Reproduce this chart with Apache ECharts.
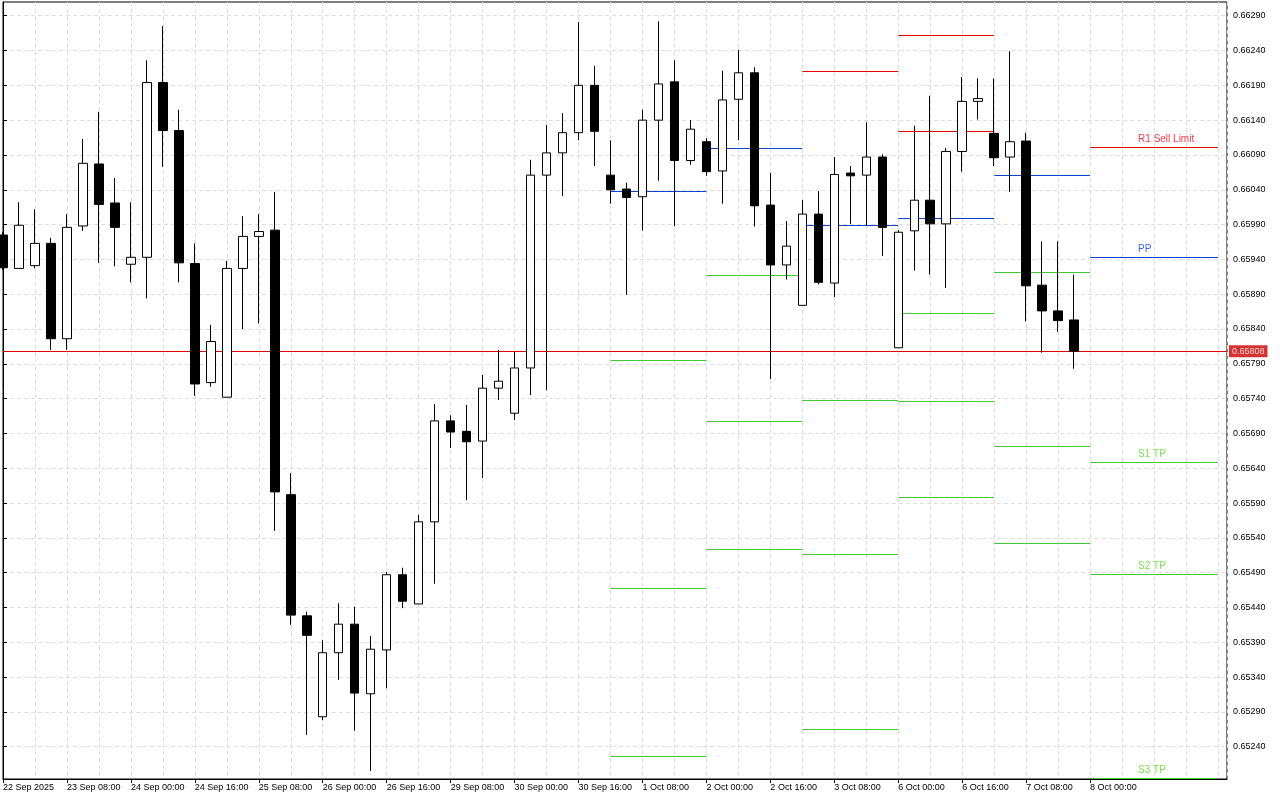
<!DOCTYPE html>
<html><head><meta charset="utf-8">
<script src="https://cdn.jsdelivr.net/npm/echarts@6/dist/echarts.min.js"></script>
<style>html,body{margin:0;padding:0;background:#fff}#chart{width:1280px;height:800px}</style>
</head><body><div id="chart"></div>
<script>
// ---- DATA (H4 bars) ----
const barTimes = [
 '22 Sep 16:00','22 Sep 20:00',
 '23 Sep 00:00','23 Sep 04:00','23 Sep 08:00','23 Sep 12:00','23 Sep 16:00','23 Sep 20:00',
 '24 Sep 00:00','24 Sep 04:00','24 Sep 08:00','24 Sep 12:00','24 Sep 16:00','24 Sep 20:00',
 '25 Sep 00:00','25 Sep 04:00','25 Sep 08:00','25 Sep 12:00','25 Sep 16:00','25 Sep 20:00',
 '26 Sep 00:00','26 Sep 04:00','26 Sep 08:00','26 Sep 12:00','26 Sep 16:00','26 Sep 20:00',
 '29 Sep 00:00','29 Sep 04:00','29 Sep 08:00','29 Sep 12:00','29 Sep 16:00','29 Sep 20:00',
 '30 Sep 00:00','30 Sep 04:00','30 Sep 08:00','30 Sep 12:00','30 Sep 16:00','30 Sep 20:00',
 '1 Oct 00:00','1 Oct 04:00','1 Oct 08:00','1 Oct 12:00','1 Oct 16:00','1 Oct 20:00',
 '2 Oct 00:00','2 Oct 04:00','2 Oct 08:00','2 Oct 12:00','2 Oct 16:00','2 Oct 20:00',
 '3 Oct 00:00','3 Oct 04:00','3 Oct 08:00','3 Oct 12:00','3 Oct 16:00','3 Oct 20:00',
 '6 Oct 00:00','6 Oct 04:00','6 Oct 08:00','6 Oct 12:00','6 Oct 16:00','6 Oct 20:00',
 '7 Oct 00:00','7 Oct 04:00','7 Oct 08:00','7 Oct 12:00','7 Oct 16:00','7 Oct 20:00'
];
const opens = [
 0.65975,0.65927,0.65931,0.65963,0.65826,0.65988,0.66077,0.66021,0.65933,0.65943,
 0.66194,0.66125,0.65934,0.65763,0.65742,0.65927,0.65973,0.65982,0.65602,0.65428,
 0.65283,0.65375,0.65416,0.65316,0.65379,0.65487,0.65445,0.65563,0.65708,0.65693,
 0.65679,0.65755,0.65719,0.65784,0.66061,0.66093,0.66122,0.66190,0.66061,0.66041,
 0.66030,0.66140,0.66195,0.66082,0.66109,0.66067,0.66170,0.66208,0.66018,0.65932,
 0.65874,0.66005,0.65906,0.66064,0.66061,0.66087,0.65813,0.65981,0.66025,0.65991,
 0.66095,0.66167,0.66121,0.66087,0.66110,0.65903,0.65866,0.65853
];
const highs = [
 0.65979,0.66022,0.66012,0.65971,0.66005,0.66113,0.66152,0.66057,0.66022,0.66226,
 0.66275,0.66155,0.65963,0.65846,0.65938,0.66002,0.66005,0.66037,0.65633,0.65434,
 0.65393,0.65446,0.65441,0.65399,0.65491,0.65497,0.65573,0.65732,0.65716,0.65731,
 0.65774,0.65810,0.65807,0.66083,0.66133,0.66150,0.66281,0.66218,0.66111,0.66050,
 0.66155,0.66282,0.66226,0.66140,0.66114,0.66211,0.66241,0.66216,0.66064,0.65995,
 0.66025,0.66038,0.66087,0.66074,0.66137,0.66091,0.65982,0.66132,0.66175,0.66100,
 0.66202,0.66200,0.66200,0.66239,0.66122,0.65966,0.65966,0.65918
];
const lows = [
 0.65925,0.65927,0.65927,0.65810,0.65810,0.65981,0.65935,0.65930,0.65907,0.65884,
 0.66073,0.65907,0.65744,0.65757,0.65742,0.65840,0.65848,0.65550,0.65415,0.65257,
 0.65278,0.65336,0.65263,0.65205,0.65324,0.65439,0.65445,0.65474,0.65669,0.65594,
 0.65626,0.65738,0.65709,0.65745,0.65752,0.66031,0.66111,0.66074,0.66020,0.65889,
 0.65981,0.66053,0.65988,0.66076,0.66060,0.66020,0.66111,0.65987,0.65768,0.65911,
 0.65874,0.65904,0.65886,0.65991,0.65989,0.65945,0.65813,0.65924,0.65918,0.65899,
 0.66066,0.66141,0.66074,0.66037,0.65851,0.65806,0.65836,0.65783
];
const closes = [
 0.65928,0.65989,0.65963,0.65826,0.65986,0.66078,0.66019,0.65986,0.65943,0.66194,
 0.66125,0.65935,0.65761,0.65822,0.65927,0.65973,0.65980,0.65606,0.65429,0.65400,
 0.65375,0.65416,0.65317,0.65380,0.65487,0.65449,0.65563,0.65708,0.65692,0.65678,
 0.65755,0.65765,0.65784,0.66061,0.66093,0.66122,0.66190,0.66124,0.66040,0.66029,
 0.66140,0.66192,0.66082,0.66127,0.66066,0.66169,0.66208,0.66017,0.65932,0.65959,
 0.66005,0.65907,0.66062,0.66060,0.66087,0.65986,0.65979,0.66025,0.65991,0.66095,
 0.66167,0.66171,0.66086,0.66109,0.65902,0.65866,0.65852,0.65808
];
const currentPrice = 0.65808;

// daily pivot levels (bar index where each day starts / ends)
const pivotDays   = ['1 Oct','2 Oct','3 Oct','6 Oct','7 Oct','8 Oct'];
const dayStartBar = [38, 44, 50, 56, 62, 68];
const dayEndBar   = [44, 50, 56, 62, 68, 76];
const levelR2 = [null,    null,    null,    0.66262, null,    null];
const levelR1 = [null,    null,    0.66210, 0.66124, null,    0.66101];
const levelPP = [0.66038, 0.66100, 0.65989, 0.65999, 0.66061, 0.65943];
const levelS1 = [0.65795, 0.65917, 0.65738, 0.65862, 0.65921, 0.65648];
const levelS2 = [0.65468, 0.65707, 0.65516, 0.65736, 0.65672, 0.65488];
const levelS3 = [0.65226, 0.65524, 0.65265, 0.65598, 0.65532, 0.65194];
const lastDayLabels = {R1:'R1 Sell Limit', PP:'PP', S1:'S1 TP', S2:'S2 TP', S3:'S3 TP'};
const labelBar = 71;

// axis ticks
const xTickBars   = [0,4,8,12,16,20,24,28,32,36,40,44,48,52,56,60,64,68];
const xTickLabels = ['22 Sep 2025','23 Sep 08:00','24 Sep 00:00','24 Sep 16:00','25 Sep 08:00',
 '26 Sep 00:00','26 Sep 16:00','29 Sep 08:00','30 Sep 00:00','30 Sep 16:00','1 Oct 08:00',
 '2 Oct 00:00','2 Oct 16:00','3 Oct 08:00','6 Oct 00:00','6 Oct 16:00','7 Oct 08:00','8 Oct 00:00'];
const yTickValues = [0.65240,0.65290,0.65340,0.65390,0.65440,0.65490,0.65540,0.65590,0.65640,
 0.65690,0.65740,0.65790,0.65840,0.65890,0.65940,0.65990,0.66040,0.66090,0.66140,0.66190,0.66240,0.66290];

// ---- STYLE ----
const FONT = '"Liberation Sans", Arial, sans-serif';
const R_COLOR = '#e60000', PP_COLOR = '#0a46d2', S_COLOR = '#3ccc2e';
const R_LABEL = '#f00a1e', PP_LABEL = '#1040e0', S_LABEL = '#5ed62a';
const X_MIN = 0, X_MAX = 76.5625, Y_MIN = 0.651936, Y_MAX = 0.663097;

const candleData = opens.map((o, i) => [i, o, closes[i], lows[i], highs[i]]);

const levelSets = [
  {key:'R2', values: levelR2, color: R_COLOR, lc: R_LABEL},
  {key:'R1', values: levelR1, color: R_COLOR, lc: R_LABEL},
  {key:'PP', values: levelPP, color: PP_COLOR, lc: PP_LABEL},
  {key:'S1', values: levelS1, color: S_COLOR, lc: S_LABEL},
  {key:'S2', values: levelS2, color: S_COLOR, lc: S_LABEL},
  {key:'S3', values: levelS3, color: S_COLOR, lc: S_LABEL}
];
const segData = [];
const labelData = [];
levelSets.forEach(s => {
  s.values.forEach((v, d) => {
    if (v == null) return;
    segData.push({coords: [[dayStartBar[d], v], [dayEndBar[d], v]], lineStyle: {color: s.color}});
    if (d === pivotDays.length - 1 && lastDayLabels[s.key]) {
      labelData.push({value: [labelBar, v], label: {formatter: lastDayLabels[s.key], color: s.lc}});
    }
  });
});
// current price line
segData.push({coords: [[X_MIN, currentPrice], [X_MAX, currentPrice]], lineStyle: {color: '#e00000'}});

const chart = echarts.init(document.getElementById('chart'), null, {renderer: 'canvas'});
chart.setOption({
  animation: false,
  backgroundColor: '#ffffff',
  grid: {left: 2, top: 2, right: 53, bottom: 21, show: true, borderColor: '#000', borderWidth: 1, backgroundColor: '#fff'},
  xAxis: [
    { type: 'value', min: X_MIN, max: X_MAX, position: 'bottom',
      axisLine: {show: true, onZero: false, lineStyle: {color: '#000', width: 1}},
      axisTick: {show: true, inside: false, length: 4, lineStyle: {color: '#000'}, customValues: xTickBars},
      axisLabel: {show: true, customValues: xTickBars, align: 'left', margin: 4, color: '#000',
        fontFamily: FONT, fontSize: 9,
        formatter: v => { const j = xTickBars.indexOf(Math.round(v)); return j >= 0 ? xTickLabels[j] : ''; }},
      splitLine: {show: false} },
    { type: 'value', min: X_MIN, max: X_MAX, interval: 2, position: 'top',
      axisLine: {show: false}, axisTick: {show: false}, axisLabel: {show: false},
      splitLine: {show: true, lineStyle: {color: '#dedede', type: [4, 3], width: 1}} }
  ],
  yAxis: {
    type: 'value', min: Y_MIN, max: Y_MAX, position: 'right', scale: true,
    axisLine: {show: true, lineStyle: {color: '#000'}},
    axisTick: {show: true, inside: false, length: 4, lineStyle: {color: '#000'}, customValues: yTickValues},
    axisLabel: {show: true, customValues: yTickValues, margin: 6, color: '#000', fontFamily: FONT, fontSize: 9,
      formatter: v => v.toFixed(5)},
    splitLine: {show: true, lineStyle: {color: '#dedede', type: [4, 3], width: 1}}
  },
  series: [
    { type: 'lines', coordinateSystem: 'cartesian2d', xAxisIndex: 0, yAxisIndex: 0, z: 1,
      polyline: false, silent: true, lineStyle: {width: 1, opacity: 1}, data: segData },
    { type: 'scatter', xAxisIndex: 0, yAxisIndex: 0, z: 2, symbolSize: 0, silent: true,
      label: {show: true, position: [0, -13], align: 'left', fontFamily: FONT, fontSize: 10},
      data: labelData },
    { type: 'scatter', xAxisIndex: 0, yAxisIndex: 0, z: 6, symbolSize: 0, silent: true, clip: false,
      label: {show: true, position: 'right', distance: 2, formatter: currentPrice.toFixed(5), color: '#fff',
        backgroundColor: '#c80000', padding: [2, 3, 1, 3], fontFamily: FONT, fontSize: 9},
      data: [[X_MAX, currentPrice]] },
    { type: 'candlestick', xAxisIndex: 0, yAxisIndex: 0, z: 5,
      dimensions: ['t', 'open', 'close', 'lowest', 'highest'],
      encode: {x: 't', y: ['open', 'close', 'lowest', 'highest']},
      barWidth: 9,
      itemStyle: {color: '#ffffff', color0: '#000000', borderColor: '#000000', borderColor0: '#000000', borderWidth: 1},
      data: candleData }
  ]
});
</script></body></html>
